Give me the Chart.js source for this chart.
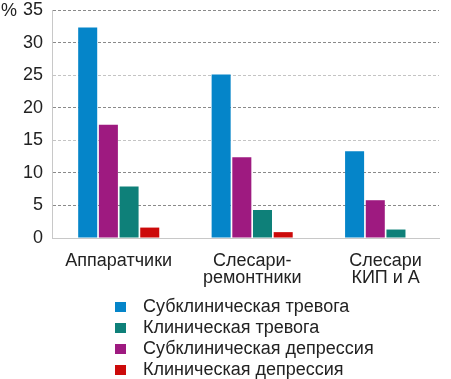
<!DOCTYPE html>
<html>
<head>
<meta charset="utf-8">
<script src="https://cdn.jsdelivr.net/npm/chart.js@4.4.1/dist/chart.umd.min.js"></script>
<style>
  html, body { margin: 0; padding: 0; background: #fff; }
  #wrap { position: relative; width: 451px; height: 379px; overflow: hidden; }
  #pct { position: absolute; left: 1px; top: 0px; font: 18px "Liberation Sans", Arial, sans-serif; color: #222; line-height: 20px; }
  #legend { position: absolute; left: 115px; top: 296px; font: 18px "Liberation Sans", Arial, sans-serif; color: #222; }
  #legend .row { height: 21px; line-height: 21px; white-space: nowrap; display: flex; align-items: center; }
  #legend .sw { display: inline-block; width: 11px; height: 10px; margin-right: 17px; }
</style>
</head>
<body>
<div id="wrap">
  <canvas id="c" width="451" height="379"></canvas>
  <div id="pct">%</div>
  <div id="legend"></div>
</div>
<script>
const categories = [["Аппаратчики"], ["Слесари-", "ремонтники"], ["Слесари", "КИП и А"]];
const seriesNames = ["Субклиническая тревога", "Субклиническая депрессия", "Клиническая тревога", "Клиническая депрессия"];
const subclinicalAnxiety = [32.3, 25.1, 13.3];
const subclinicalDepression = [17.4, 12.4, 5.8];
const clinicalAnxiety = [7.9, 4.3, 1.3];
const clinicalDepression = [1.6, 0.9, 0];
const yTicks = [0, 5, 10, 15, 20, 25, 30, 35];
const legendOrder = [0, 2, 1, 3];

const colors = ["#0585c9", "#9e1a80", "#0e8079", "#cc0a0a"];
const seriesValues = [subclinicalAnxiety, subclinicalDepression, clinicalAnxiety, clinicalDepression];

const datasets = seriesValues.map((vals, s) => ({
  label: seriesNames[s],
  data: vals.map((v, i) => ({ x: i, y: v })),
  backgroundColor: colors[s],
  borderWidth: 0,
  categoryPercentage: 0.62,
  barPercentage: 0.92
}));

const font = { family: '"Liberation Sans", Arial, sans-serif', size: 18 };

new Chart(document.getElementById('c'), {
  type: 'bar',
  data: { datasets },
  options: {
    responsive: false,
    animation: false,
    layout: { padding: { top: 0, right: 12, left: 0, bottom: 0 } },
    plugins: { legend: { display: false }, tooltip: { enabled: false } },
    scales: {
      x: {
        type: 'linear',
        min: -0.5,
        max: 2.4,
        offset: false,
        grid: { display: false, offset: false },
        border: { display: true, color: '#c8c8c8', width: 1 },
        afterBuildTicks: (scale) => { scale.ticks = categories.map((_, i) => ({ value: i })); },
        afterFit: (scale) => { scale.height = 141; },
        ticks: {
          font: { ...font, lineHeight: 0.95 },
          color: '#222',
          padding: 6,
          maxRotation: 0,
          autoSkip: false,
          callback: (v) => categories[v] || ''
        }
      },
      y: {
        min: 0,
        max: 35,
        afterBuildTicks: (scale) => { scale.ticks = yTicks.map(v => ({ value: v })); },
        afterFit: (scale) => { scale.width = 52; scale.paddingTop = 10; scale.paddingBottom = 10; },
        grid: {
          drawTicks: false,
          color: (ctx) => {
            const v = ctx.tick ? ctx.tick.value : null;
            if (v === 0) return 'rgba(0,0,0,0)';
            if (v === 15 || v === 25) return '#c4c4c4';
            return '#8a8a8a';
          },
          lineWidth: 1
        },
        border: { display: true, color: '#c8c8c8', width: 1, dash: [3, 2] },
        ticks: { font, color: '#222', padding: 9 }
      }
    }
  }
});

const leg = document.getElementById('legend');
legendOrder.forEach(s => {
  const row = document.createElement('div');
  row.className = 'row';
  const sw = document.createElement('span');
  sw.className = 'sw';
  sw.style.background = colors[s];
  row.appendChild(sw);
  row.appendChild(document.createTextNode(seriesNames[s]));
  leg.appendChild(row);
});
</script>
</body>
</html>
